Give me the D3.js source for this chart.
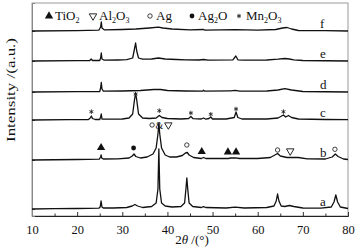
<!DOCTYPE html>
<html><head><meta charset="utf-8">
<script src="https://cdn.jsdelivr.net/npm/d3@7/dist/d3.min.js"></script>
<style>body{margin:0;background:#fff}svg{display:block}svg text{font-family:'Liberation Serif','DejaVu Serif',serif !important;fill:#111}</style>
</head><body>
<script>
// ---- data (2θ in degrees, relative intensity in a.u.) ----
const xTicks = [10,20,30,40,50,60,70,80];
const sampleNames = ["a","b","c","d","e","f"];
const sampleOffsets = [7,56,96,124,155,185];
const patA = [[10,0],[15,0.3],[20,0.5],[24.8,0.8],[25.1,2],[25.3,8],[25.5,2],[25.8,1],[28,1],[31,1.5],[32.2,3],[32.8,4.5],[33.4,3],[34.5,1.5],[36.5,2.5],[37.5,6],[37.9,20],[38.1,60],[38.3,20],[38.7,6],[39.5,3],[41,2],[43,2.5],[43.8,6],[44.1,20],[44.3,31],[44.5,20],[44.8,6],[45.6,2.5],[47.5,1.5],[48,2.3],[48.5,1.5],[53,1],[55,1.8],[57,1],[62,1.5],[63.6,3],[64.1,8],[64.4,15],[64.7,8],[65.2,3],[66,2.5],[67,3.5],[68,2.5],[70,1],[74,0.8],[76.3,2],[76.9,7],[77.3,14],[77.7,7],[78.3,2],[80,0.5]];
const patB = [[10,0],[20,0.5],[24.9,0.8],[25.2,3],[25.3,5],[25.45,2],[25.8,1],[29,1.2],[31.5,2],[32.2,4],[32.6,6],[33,3.5],[34,2],[35.5,3],[36.8,6],[37.5,12],[37.9,26],[38.1,37],[38.3,26],[38.7,12],[39.5,5],[40.5,3],[42,3],[43.3,4.5],[44,7],[44.4,7.5],[44.8,5],[45.8,2.5],[47.5,1.5],[48,2.5],[48.5,1.5],[53.5,1.5],[54,2],[55,2.2],[56,1.5],[60,1.5],[62.8,2.5],[63.8,5],[64.4,6.5],[65,4],[66.5,2.5],[69,2.5],[71,1.2],[75,1],[76.5,3],[77.2,6],[77.8,3.5],[79,1],[80,0.5]];
const patC = [[10,0],[18,0.3],[22.5,0.5],[22.9,2],[23.15,4],[23.4,1.5],[24,0.5],[25.0,0.5],[25.2,3],[25.35,6],[25.5,1],[27,0.8],[30,1],[31.5,2],[32.3,6],[32.7,20],[32.95,27],[33.2,20],[33.6,6],[34.5,2],[36,1.5],[37.5,2],[38.2,4.5],[38.8,2.5],[40,1.5],[43,1],[44.7,1.5],[45.2,3.5],[45.7,1.3],[47.5,1],[48,2],[48.5,0.8],[49.2,1.5],[49.6,3],[50,1],[53,1],[54.8,2.5],[55.2,8],[55.6,2.5],[56.5,1],[62,1],[64.5,2],[65.7,5],[66.2,3],[66.8,4.5],[67.5,2.5],[69,1],[75,0.5],[80,0.3]];
const patD = [[10,0],[20,0.3],[25.0,0.5],[25.2,4],[25.35,9.5],[25.5,3],[25.8,0.8],[30,1],[34,1.5],[37,2.5],[38.5,2.5],[40,1.5],[44,1],[47.8,0.8],[48,1.8],[48.3,0.8],[53.8,1.2],[54,1.2],[55,1.6],[56,0.8],[62,1],[64.5,2],[66,3.3],[67.5,2],[70,0.5],[80,0]];
const patE = [[10,0],[20,0.3],[22.8,0.5],[23.1,2],[23.4,0.5],[25.0,0.5],[25.2,3],[25.35,8],[25.5,2],[26,0.8],[29,1],[31,1.3],[32.3,3],[32.7,12],[32.95,18],[33.2,10],[33.6,3],[34.5,1.8],[36.5,2],[38,3],[39.5,2],[42,1.5],[44,1.2],[47,1],[48,1.5],[49,0.8],[54.5,1.2],[55.15,5],[55.6,1.2],[57,0.8],[62,1],[64.5,1.8],[66,2.5],[67,2],[68,1.2],[70,0.5],[80,0]];
const patF = [[10,0],[20,0.3],[24.8,0.8],[25.2,4],[25.35,9],[25.5,3],[26,1.2],[30,1.5],[33,2],[36,3],[38,3.8],[39,3],[41,2],[45,1.2],[48,1.5],[48.3,0.8],[55,1.3],[60,0.8],[64,1.5],[65.5,3],[66.5,3.5],[67.5,2],[69,0.5],[75,0.3],[80,0]];
// phase markers: [2θ, level above the sample baseline]
const tio2MarksB = [[25.3,12.3],[47.6,8.3],[53.4,8],[55.2,8]];
const ag2oMarksB = [[32.5,12]];
const agMarksB = [[36.6,35],[44.3,15],[64.4,10],[77.1,10.7]];
const al2o3MarksB = [[67.2,9],[40.2,35]];
const mn2o3MarksB = [[38.2,35]];
const mn2o3MarksC = [[23.15,8.3],[32.95,26],[38.2,9.3],[45.2,7],[49.6,5.7],[55.2,11],[65.7,8.3]];
const legendItems = [["tri","TiO","2",""],["tridown","Al","2","O","3"],["circle","Ag"],["dot","Ag","2","O"],["star","Mn","2","O","3"]];

const W=363,H=251, L=32,R=348,T=3,B=216;
const FONT="'Liberation Serif','DejaVu Serif',serif";
const svg=d3.select("body").append("svg").attr("width",W).attr("height",H);
const x=d3.scaleLinear().domain([10,80]).range([L,R]);
const y=d3.scaleLinear().domain([0,213]).range([B,T]);
const pats=[patA,patB,patC,patD,patE,patF];

svg.append("rect").attr("x",L).attr("y",T).attr("width",R-L).attr("height",B-T).attr("fill","none").attr("stroke","#999").attr("stroke-width",1);
const xa=svg.append("g").attr("transform",`translate(0,${B})`)
  .call(d3.axisBottom(x).tickValues(xTicks).tickSize(-4).tickPadding(9).tickFormat(d3.format("d")));
xa.attr("font-family",FONT);
xa.select(".domain").attr("stroke","#222");
xa.selectAll("text").attr("font-size",12.5).attr("fill","#111");
xa.selectAll("line").attr("stroke","#333");
svg.append("g").attr("transform",`translate(0,${B})`)
  .call(d3.axisBottom(x).tickValues(d3.range(15,80,10)).tickSize(-2.5).tickFormat(""))
  .call(g=>g.select(".domain").remove()).selectAll("line").attr("stroke","#333");
svg.append("g").attr("transform",`translate(${L},0)`)
  .call(d3.axisLeft(y).tickValues(sampleOffsets).tickSize(-3).tickFormat(""))
  .call(g=>g.select(".domain").attr("stroke","#888")).selectAll("line").attr("stroke","#555");

const line=off=>d3.line().x(d=>x(d[0])).y(d=>y(d[1]+off));
pats.forEach((p,i)=>{
  svg.append("path").datum(p).attr("d",line(sampleOffsets[i])).attr("fill","none")
    .attr("stroke","#111").attr("stroke-width",1.3).attr("stroke-linejoin","round");
  svg.append("text").attr("x",x(73.8)).attr("y",y(sampleOffsets[i])-3.5).attr("font-size",13).attr("font-family",FONT).text(sampleNames[i]);
});

function mark(g,type,cx,cy){
  if(type==="tri") g.append("path").attr("d",d3.symbol(d3.symbolTriangle,30)()).attr("transform",`translate(${cx},${cy})`).attr("fill","#111");
  else if(type==="tridown") g.append("path").attr("d",d3.symbol(d3.symbolTriangle,24)()).attr("transform",`translate(${cx},${cy}) rotate(180)`).attr("fill","none").attr("stroke","#111").attr("stroke-width",0.9);
  else if(type==="circle") g.append("circle").attr("cx",cx).attr("cy",cy).attr("r",2.2).attr("fill","none").attr("stroke","#111").attr("stroke-width",0.8);
  else if(type==="dot") g.append("circle").attr("cx",cx).attr("cy",cy).attr("r",2.4).attr("fill","#111");
  else if(type==="star") g.append("path").attr("d",d3.symbol(d3.symbolAsterisk,14)()).attr("transform",`translate(${cx},${cy})`).attr("fill","none").attr("stroke","#222").attr("stroke-width",0.9);
}
const mg=svg.append("g");
const bOff=sampleOffsets[1], cOff=sampleOffsets[2];
tio2MarksB.forEach(d=>mark(mg,"tri",x(d[0]),y(bOff+d[1])));
ag2oMarksB.forEach(d=>mark(mg,"dot",x(d[0]),y(bOff+d[1])));
agMarksB.forEach(d=>mark(mg,"circle",x(d[0]),y(bOff+d[1])));
al2o3MarksB.forEach(d=>mark(mg,"tridown",x(d[0]),y(bOff+d[1])));
mn2o3MarksB.forEach(d=>mg.append("text").attr("x",x(d[0])).attr("y",y(bOff+d[1])+4).attr("text-anchor","middle").attr("font-size",10).attr("font-family",FONT).text("&"));
mn2o3MarksC.forEach(d=>mark(mg,"star",x(d[0]),y(cOff+d[1])));

const legX=[49,93,150,192,239];
legendItems.forEach((it,i)=>{
  mark(svg,it[0],legX[i],16);
  const t=svg.append("text").attr("x",legX[i]+(it[0]==="star"?7:6)).attr("y",20).attr("font-size",13).attr("font-family",FONT);
  t.append("tspan").text(it[1]);
  if(it.length>2){
    t.append("tspan").attr("font-size",8).attr("dy",2.5).text(it[2]);
    if(it[3]) t.append("tspan").attr("font-size",13).attr("dy",-2.5).text(it[3]);
    if(it[4]) t.append("tspan").attr("font-size",8).attr("dy",2.5).text(it[4]);
  }
});

const xl=svg.append("text").attr("x",(L+R)/2+2).attr("y",244).attr("text-anchor","middle").attr("font-size",13).attr("font-family",FONT);
xl.append("tspan").text("2");
xl.append("tspan").attr("font-style","italic").text("θ");
xl.append("tspan").text(" /(°)");
svg.append("text").attr("transform","translate(15,90) rotate(-90)").attr("text-anchor","middle").attr("font-size",13).attr("font-family",FONT)
  .attr("textLength",104).attr("lengthAdjust","spacingAndGlyphs").text("Intensity /(a.u.)");
</script>
</body></html>
